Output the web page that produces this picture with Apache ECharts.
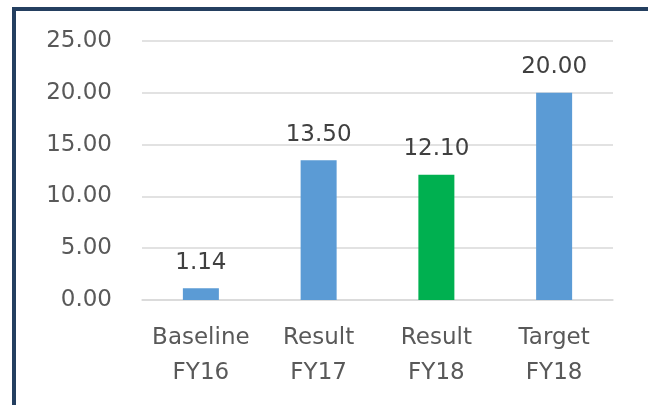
<!DOCTYPE html>
<html>
<head>
<meta charset="utf-8">
<script src="https://cdn.jsdelivr.net/npm/echarts@6/dist/echarts.min.js"></script>
<style>
html,body{margin:0;padding:0;background:#fff;}
#chart{width:648px;height:405px;}
</style>
</head>
<body>
<div id="chart"></div>
<script>
var categories = ['Baseline\nFY16', 'Result\nFY17', 'Result\nFY18', 'Target\nFY18'];
var values = [1.14, 13.5, 12.1, 20.0];
var barColors = ['#5B9BD5', '#5B9BD5', '#00B050', '#5B9BD5'];
var yTicks = [0, 5, 10, 15, 20, 25];

var chart = echarts.init(document.getElementById('chart'), null, {renderer: 'canvas'});
var font = 'DejaVu Sans';
chart.setOption({
  animation: false,
  backgroundColor: '#ffffff',
  grid: {left: 142, right: 35, top: 41, bottom: 105},
  xAxis: {
    type: 'category',
    data: categories,
    axisLine: {show: true, lineStyle: {color: '#D9D9D9', width: 1.5}},
    axisTick: {show: false},
    axisLabel: {interval: 0, color: '#595959', fontFamily: font, fontSize: 23, lineHeight: 35, margin: 21}
  },
  yAxis: {
    type: 'value',
    min: yTicks[0],
    max: yTicks[yTicks.length - 1],
    interval: 5,
    axisLine: {show: false},
    axisTick: {show: false},
    splitLine: {lineStyle: {color: '#D9D9D9', width: 1.5}},
    axisLabel: {color: '#595959', fontFamily: font, fontSize: 23, margin: 30,
      formatter: function (v) { return v.toFixed(2); }}
  },
  series: [{
    type: 'bar',
    barWidth: 36,
    data: values.map(function (v, i) { return {value: v, itemStyle: {color: barColors[i]}}; }),
    label: {
      show: true, position: 'top', distance: 14,
      color: '#404040', fontFamily: font, fontSize: 23,
      formatter: function (p) { return p.value.toFixed(2); }
    }
  }],
  graphic: [
    {type: 'rect', shape: {x: 12, y: 7, width: 4, height: 398}, style: {fill: '#243F60'}},
    {type: 'rect', shape: {x: 12, y: 7, width: 636, height: 4}, style: {fill: '#243F60'}}
  ]
});
</script>
</body>
</html>
